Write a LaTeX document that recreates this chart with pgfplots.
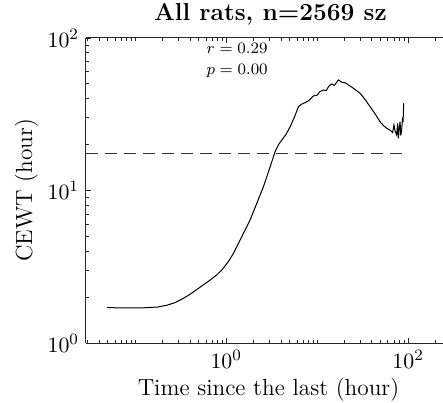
\documentclass[border=0pt]{standalone}
\usepackage{pgfplots}
\pgfplotsset{compat=1.18}
\begin{document}
\begin{tikzpicture}
\begin{axis}[
  at={(0,0)}, anchor=south west,
  scale only axis,
  width=178.5bp, height=152.5bp,
  xmode=log, ymode=log,
  xmin=0.0288, xmax=242,
  ymin=1, ymax=100,
  axis x line*=box, axis y line*=left,
  axis line style={black!85, line width=0.5bp},
  xtick={1,100},
  xticklabels={$10^{0}$,$10^{2}$},
  minor xtick={0.03,0.04,0.05,0.06,0.07,0.08,0.09,0.1,0.2,0.3,0.4,0.5,0.6,0.7,0.8,0.9,2,3,4,5,6,7,8,9,10,20,30,40,50,60,70,80,90,200},
  ytick={1,10,100},
  yticklabels={$10^{0}$,$10^{1}$,$10^{2}$},
  minor ytick={2,3,4,5,6,7,8,9,20,30,40,50,60,70,80,90},
  major tick length=2.5bp, minor tick length=1.5bp,
  tick style={black!85, line width=0.4bp},
  tick label style={font=\fontsize{11}{13}\selectfont},
  xlabel={Time since the last (hour)},
  ylabel={CEWT (hour)},
  label style={font=\fontsize{11.7}{14}\selectfont},
  title={\textbf{All rats, n=2569 sz}},
  title style={font=\fontsize{12.3}{15}\selectfont, yshift=-3bp, xshift=3bp},
  xlabel style={yshift=2bp, xshift=2bp},
  ylabel style={yshift=-2bp},
  clip=false,
]
\addplot[black!80, line width=0.5bp, dash pattern=on 6bp off 3.5bp] coordinates {(0.0288,17.5) (100,17.5)};
\addplot[black, line width=0.5bp] coordinates {
(0.0490,1.706) (0.0794,1.698) (0.1259,1.702) (0.1778,1.722) (0.2239,1.770)
(0.2754,1.841) (0.3258,1.936) (0.3981,2.080) (0.5012,2.291) (0.6668,2.588)
(0.7943,2.805) (0.8974,3.013) (1.047,3.388) (1.205,3.873) (1.486,4.977)
(1.837,6.412) (2.173,8.241) (2.570,10.59) (3.048,14.32) (3.451,17.95)
(3.758,19.95) (4.093,21.43) (4.571,23.44) (5.047,26.18) (5.623,30.20)
(6.237,35.48) (6.761,36.81) (7.379,37.67) (8.128,38.90) (9.120,41.69)
(10.00,42.17) (10.72,44.46) (11.75,45.60) (12.59,45.19) (13.49,48.42)
(14.49,49.89) (15.49,48.98) (17.14,53.09) (18.62,51.29) (20.32,50.93)
(22.39,48.98) (25.12,46.77) (29.72,43.35) (33.88,39.36) (38.19,35.48)
(43.65,31.62) (49.20,28.25) (53.70,26.61) (58.34,25.59) (63.10,24.95)
(67.61,23.99) (69.98,26.92) (71.94,24.55) (74.99,23.12) (76.74,27.54)
(78.34,21.98) (80.35,26.30) (81.66,28.25) (83.18,22.91) (85.11,25.12)
(87.10,30.20) (88.10,28.18) (89.54,37.33)};
\node[font=\fontsize{8.5}{10}\selectfont] at (axis cs:1.32,86) {$r=0.29$};
\node[font=\fontsize{8.5}{10}\selectfont] at (axis cs:1.32,61) {$p=0.00$};
\end{axis}
\pgfresetboundingbox
\path[use as bounding box] (-43bp,-30bp) rectangle (178.5bp,171.5bp);
\end{tikzpicture}
\end{document}
